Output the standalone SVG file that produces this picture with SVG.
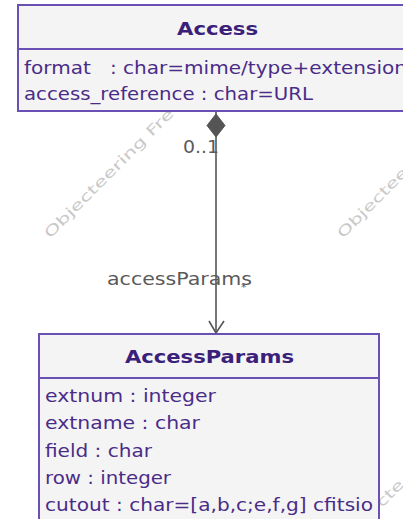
<svg xmlns="http://www.w3.org/2000/svg" width="403" height="519" viewBox="0 0 403 519">
<style>
.wm{font-family:"DejaVu Sans",Verdana,sans-serif;font-size:14px;fill:#c9c9c9}
.box{fill:#f4f4f4;stroke:#6a4fb4;stroke-width:2}
.div{stroke:#6a4fb4;stroke-width:2}
.title{font-family:"DejaVu Sans",Verdana,sans-serif;font-size:18px;font-weight:bold;fill:#3b207a}
.attr{font-family:"DejaVu Sans",Verdana,sans-serif;font-size:18px;fill:#4a2c88}
.lbl{font-family:"DejaVu Sans",Verdana,sans-serif;font-size:17px;fill:#5a5a5a}
.conn{stroke:#555;stroke-width:1.6;fill:none}
</style>
<rect width="403" height="519" fill="#ffffff"/>
<g id="watermarks">
<text class="wm" transform="translate(50,239) rotate(-45)" textLength="176" lengthAdjust="spacingAndGlyphs">Objecteering Fre</text>
<text class="wm" transform="translate(343,239) rotate(-45)" textLength="93" lengthAdjust="spacingAndGlyphs">Objectee</text>
<text class="wm" transform="translate(382,508) rotate(-45)" textLength="32" lengthAdjust="spacingAndGlyphs">cte</text>
</g>
<g id="connectors">
<line class="conn" x1="216" y1="112" x2="216" y2="333"/>
<polygon points="216,114 225,125.5 216,137 207,125.5" fill="#555" stroke="#555" stroke-width="1"/>
<polyline class="conn" points="209,321 216,333 224,321"/>
<text class="lbl" x="183" y="153" textLength="36" lengthAdjust="spacingAndGlyphs">0..1</text>
<text class="lbl" x="107" y="285" textLength="145" lengthAdjust="spacingAndGlyphs">accessParams</text>
<text class="lbl" x="241" y="291" style="font-size:11px">*</text>
</g>
<g id="Access">
<rect class="box" x="18" y="5" width="400" height="106"/>
<line class="div" x1="18" y1="49" x2="418" y2="49"/>
<text class="title" x="177" y="35" textLength="81" lengthAdjust="spacingAndGlyphs">Access</text>
<text class="attr" x="24" y="74" textLength="383" lengthAdjust="spacingAndGlyphs" xml:space="preserve">format   : char=mime/type+extension</text>
<text class="attr" x="24" y="100" textLength="289" lengthAdjust="spacingAndGlyphs">access_reference : char=URL</text>
</g>
<g id="AccessParams">
<rect class="box" x="39" y="334" width="340" height="200"/>
<line class="div" x1="39" y1="378" x2="379" y2="378"/>
<text class="title" x="125" y="363" textLength="169" lengthAdjust="spacingAndGlyphs">AccessParams</text>
<text class="attr" x="45" y="402" textLength="171" lengthAdjust="spacingAndGlyphs">extnum : integer</text>
<text class="attr" x="45" y="429" textLength="155" lengthAdjust="spacingAndGlyphs">extname : char</text>
<text class="attr" x="45" y="457" textLength="107" lengthAdjust="spacingAndGlyphs">field : char</text>
<text class="attr" x="45" y="484" textLength="126" lengthAdjust="spacingAndGlyphs">row : integer</text>
<text class="attr" x="45" y="511" textLength="328" lengthAdjust="spacingAndGlyphs">cutout : char=[a,b,c;e,f,g] cfitsio</text>
</g>
</svg>
